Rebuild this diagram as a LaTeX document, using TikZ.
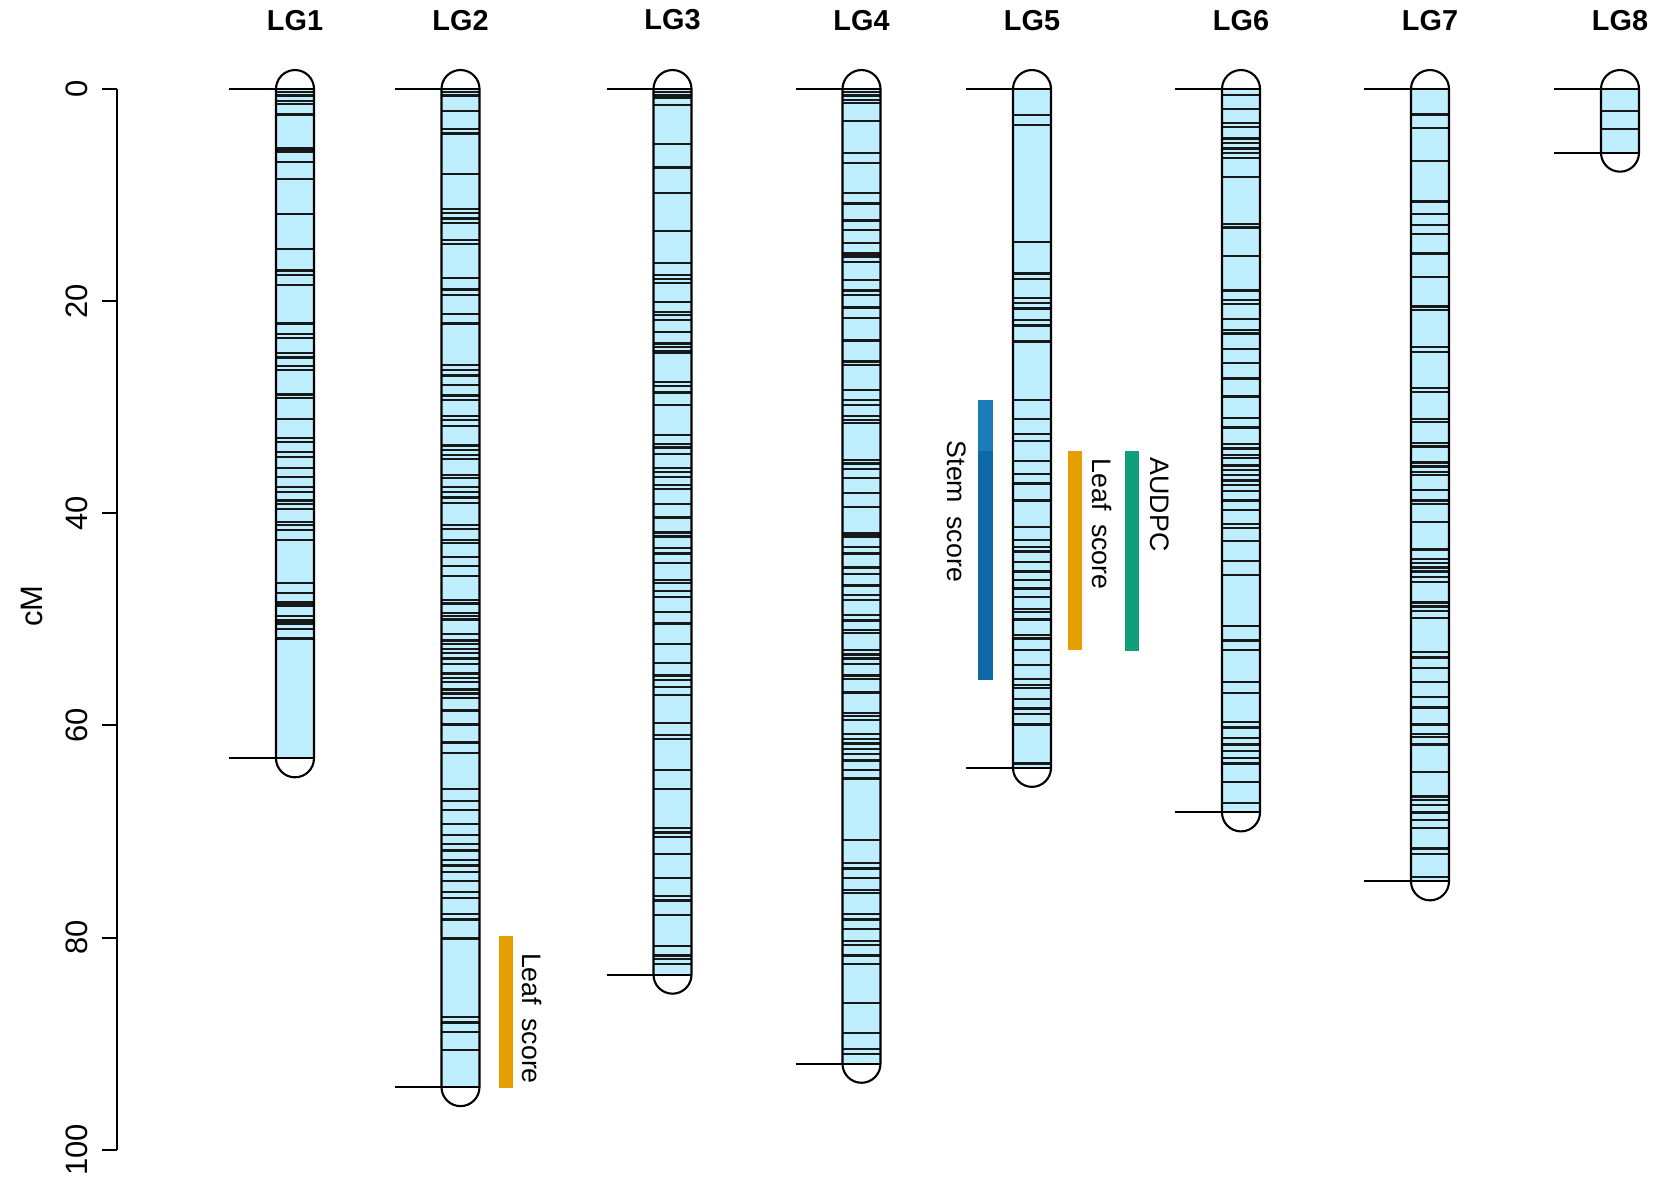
\documentclass[tikz,border=0pt]{standalone}
\usepackage{fontspec}
\setmainfont{Liberation Sans}
\usepackage{tikz}
\usepackage{xcolor}
\definecolor{chromblue}{HTML}{BFEFFF}
\definecolor{stemlight}{RGB}{26,124,184}
\definecolor{stemdark}{RGB}{15,105,166}
\definecolor{leaforange}{HTML}{E69F00}
\definecolor{audpcgreen}{HTML}{0FA079}
\tikzset{%
    chromline/.style={line width=0.6pt,black},
    marker/.style={line width=0.65pt,black!90},
    axisline/.style={line width=0.6pt,black},
    lglabel/.style={font=\fontsize{8.2}{9}\selectfont\bfseries,inner sep=0pt},
    ticklabel/.style={font=\fontsize{8.8}{10}\selectfont,rotate=90,inner sep=0pt},
    qtllabel/.style={font=\fontsize{7.6}{9}\selectfont,rotate=-90,anchor=west,inner sep=0pt}
}
% #1 centre (px), #2 length (cM), #3 markers, #4 name
\newcommand{\lgchrom}[4]{%
    \fill[chromblue] (#1-19,0) rectangle (#1+19,#2);
    \foreach \m in {#3} \draw[marker] (#1-19,\m) -- (#1+19,\m);
    \draw[chromline] (#1-19,0) arc[start angle=180,end angle=0,radius=0.19cm]
        -- (#1+19,#2) arc[start angle=0,end angle=-180,radius=0.19cm] -- cycle;
    \draw[chromline] (#1-66,0) -- (#1+19,0);
    \draw[chromline] (#1-66,#2) -- (#1+19,#2);
    \node[lglabel] (#4) at (#1,-6.5) {#4};
}

\begin{document}
\begin{tikzpicture}[x=0.01cm,y=-0.01cm]
    \useasboundingbox (0,0) rectangle (1654,1180);
    \node[rotate=90,font=\fontsize{8.8}{10}\selectfont] (ylab) at (32,606) {cM};

    \begin{scope}[yshift=-0.89cm,y=-0.106cm]
    % axis
    \draw[axisline] (117,0) -- (117,100);
    \foreach \t in {0,20,...,100} {
        \draw[axisline] (102,\t) -- (117,\t);
        \node[ticklabel] (tick\t) at (77,\t) {\t};
    }

    \lgchrom{295}{63.1}{0.3,0.6,1.1,1.4,2.4,5.6,5.9,6.9,8.5,11.8,15.1,17.1,17.5,18.5,22.1,23.1,23.5,24.9,25.3,26.1,26.5,28.8,29.1,31.1,32.9,33.3,34.2,34.7,35.7,36.6,37.5,38.0,38.8,39.1,39.6,40.8,41.1,41.6,42.5,46.6,47.5,48.4,48.7,49.7,50.1,50.4,50.9,51.8}{LG1}
    \lgchrom{460.5}{94.1}{0.3,0.6,2.1,3.8,4.2,8.0,11.3,11.7,12.2,12.6,14.2,14.6,17.8,18.9,19.4,21.2,22.1,26.0,26.5,27.0,27.9,28.9,29.3,30.8,31.2,31.8,33.6,34.0,34.5,34.9,36.4,36.7,37.5,38.0,38.5,39.0,41.1,41.5,42.5,42.8,44.1,45.0,45.9,48.2,48.5,49.4,49.7,50.0,51.4,52.0,52.3,52.8,53.2,53.7,54.2,55.1,55.5,55.9,56.6,57.0,57.4,58.6,59.9,61.6,62.6,66.0,67.1,68.0,69.3,70.3,71.2,71.8,72.7,73.2,73.8,74.7,75.7,76.3,77.8,78.3,80.1,87.5,88.0,88.9,90.6}{LG2}
    \lgchrom{672.5}{83.5}{0.3,0.6,0.8,1.5,5.2,7.4,9.8,13.4,16.4,17.5,17.9,18.3,20.1,21.0,21.3,21.8,22.9,24.0,24.3,24.7,24.9,27.6,28.0,28.6,29.8,32.6,33.5,33.8,34.4,35.7,36.1,36.6,37.3,37.7,39.1,40.4,41.8,42.2,43.3,43.8,44.7,46.3,46.6,47.3,47.9,49.3,50.4,52.3,54.1,55.3,55.7,56.4,57.1,59.8,60.9,61.3,64.2,66.0,69.7,70.1,70.5,72.1,74.4,76.1,76.5,77.9,80.8,81.7,82.0,82.5}{LG3}
    \lgchrom{861.5}{91.9}{0.3,0.6,1.0,1.3,3.0,6.0,7.0,9.8,10.8,12.4,13.3,14.5,15.5,15.8,16.3,18.0,19.0,19.4,20.6,21.6,23.7,25.7,26.0,28.4,29.3,29.8,30.8,31.2,31.5,35.0,35.3,35.8,36.7,38.1,39.4,41.9,42.2,43.2,43.8,45.1,45.7,46.8,47.7,48.2,49.6,50.1,51.0,51.3,52.9,53.3,53.7,54.2,55.3,55.6,56.9,58.8,59.1,59.5,60.8,61.3,61.7,62.2,62.7,63.3,64.2,65.0,70.8,73.0,73.5,74.4,75.5,75.8,77.8,78.3,79.2,80.3,80.7,81.7,82.5,86.2,89.0,90.5,91.0}{LG4}
    \lgchrom{1032}{64.0}{2.45,3.4,14.4,17.4,17.9,19.7,20.2,20.7,21.8,22.3,23.8,29.3,31.1,32.5,33.2,35.1,36.3,37.2,38.8,41.3,42.5,43.2,43.6,44.6,45.5,46.3,47.1,47.9,49.0,49.3,50.0,51.5,51.8,52.9,54.3,55.6,56.2,56.5,57.5,58.4,58.9,59.9,63.6}{LG5}
    \lgchrom{1241}{68.2}{0.57,1.9,3.2,3.55,4.65,5.1,5.6,6.0,6.5,8.3,12.7,13.05,15.75,19.0,19.9,20.3,21.7,22.7,23.05,24.5,25.8,27.3,29.0,31.0,31.9,33.5,33.9,34.5,34.8,35.5,35.9,36.4,36.9,37.3,37.9,38.8,39.7,41.0,41.4,42.6,44.5,45.8,50.6,52.0,52.9,55.9,56.96,59.7,60.2,61.2,61.8,62.4,63.1,63.6,65.3,67.3}{LG6}
    \lgchrom{1430}{74.7}{2.4,3.7,6.8,10.6,11.8,12.8,13.7,15.5,17.7,20.5,20.85,24.3,24.8,28.2,28.55,31.1,31.4,33.4,33.7,35.2,35.6,36.1,36.4,37.8,38.8,39.15,40.8,43.4,44.3,44.7,45.1,45.5,46.0,46.5,48.4,48.8,49.2,49.9,53.1,53.6,54.6,55.9,57.3,58.3,59.9,60.8,61.1,61.8,64.4,66.7,67.0,67.5,68.2,68.9,69.7,71.6,72.1,74.3}{LG7}
    \lgchrom{1620}{6.0}{2.1,3.8}{LG8}

    % QTL intervals
    \fill[leaforange] (499,79.9) rectangle (513,94.2);
    \node[qtllabel] (leaf2) at (532,81.4) {Leaf\hspace{0.5em}score};
    \fill[stemlight] (978,29.3) rectangle (993,55.7);
    \fill[stemdark] (978,34.1) rectangle (993,55.7);
    \node[qtllabel] (stem5) at (957,33.1) {Stem\hspace{0.5em}score};
    \fill[leaforange] (1068,34.1) rectangle (1082,52.9);
    \node[qtllabel] (leaf5) at (1102,34.8) {Leaf\hspace{0.5em}score};
    \fill[audpcgreen] (1125,34.1) rectangle (1139,53.0);
    \node[qtllabel] (audpc5) at (1160,34.7) {AUDPC};
    \end{scope}
\end{tikzpicture}
\end{document}
